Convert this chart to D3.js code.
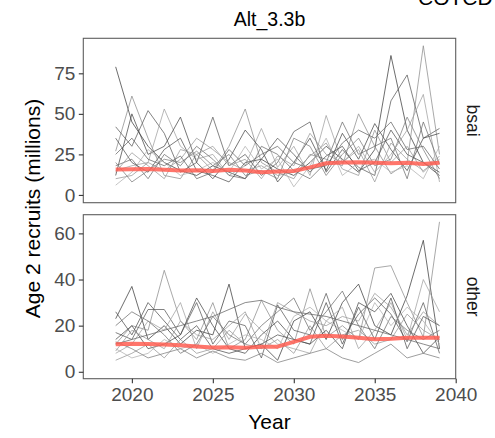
<!DOCTYPE html>
<html><head><meta charset="utf-8">
<script src="https://cdn.jsdelivr.net/npm/d3@7/dist/d3.min.js"></script>
<style>body{margin:0;background:#fff}svg{display:block;font-family:"Liberation Sans",Arial,sans-serif}</style>
</head><body><svg id="c" width="495" height="438"></svg>
<script>
const years = d3.range(2019, 2040);
const xTicks = [2020, 2025, 2030, 2035, 2040];
const bsaiTicks = [0, 25, 50, 75];
const otherTicks = [0, 20, 40, 60];
const facets = ["bsai", "other"];
const title = "Alt_3.3b";
const cornerText = "COTCD";

const bsaiMean = [15.7,15.8,16.0,15.5,15.0,15.2,14.8,15.5,15.0,14.0,14.5,14.8,17.0,19.5,20.0,20.2,19.8,19.5,19.8,19.0,19.8];
const bsaiRuns = [
 [79,45,30,20,15,12,18,14,10,22,16,12,20,30,22,14,28,86,40,20,12],
 [27,61,35,12,10,25,15,30,53,20,14,10,25,22,18,50,30,13,20,92,25],
 [42,30,52,38,14,20,48,18,25,12,20,39,45,14,28,17,12,58,74,35,41],
 [15,18,20,53,30,22,25,12,18,41,17,30,12,49,20,30,14,25,40,62,8],
 [12,50,25,30,48,20,10,22,40,28,8,20,35,15,38,22,44,28,15,35,38],
 [10,12,20,15,22,35,28,20,15,18,12,14,24,32,16,12,40,20,30,14,24],
 [18,22,10,25,18,30,22,12,10,30,25,15,10,20,45,25,30,35,10,45,19],
 [6,14,28,20,12,15,20,14,30,16,22,5,18,35,12,20,22,14,18,10,30],
 [35,20,14,28,35,15,12,8,20,22,35,25,14,24,30,15,20,40,25,20,14],
 [20,8,15,22,20,27,18,25,12,15,10,35,30,12,25,35,18,22,48,28,10],
 [14,26,18,10,28,25,30,18,22,10,24,18,38,25,20,28,8,32,22,15,22],
 [25,35,22,18,24,10,14,28,18,25,30,20,16,18,32,40,35,45,28,30,16]
];
const otherMean = [11.9,12.2,12.0,11.8,11.5,11.0,10.5,10.6,10.4,10.8,10.9,13.0,15.2,15.6,15.3,14.8,14.1,14.3,14.8,14.8,14.8];
const otherRuns = [
 [23,37,14,20,12,18,16,38,10,12,5,22,26,14,30,38,20,16,33,57,10],
 [12,20,18,44,22,14,30,10,14,31,18,12,36,15,20,14,45,46,30,15,65],
 [17,14,27,27,16,30,12,22,20,6,29,18,16,34,14,25,32,25,13,30,8],
 [8,12,22,18,30,10,26,14,25,18,12,10,8,22,28,10,18,30,14,40,26],
 [14,20,10,12,16,32,20,10,8,16,22,14,12,18,10,30,26,34,20,8,15],
 [5,8,12,6,14,8,10,18,12,10,14,8,20,10,16,18,12,14,25,18,14],
 [20,26,22,16,8,12,24,16,12,20,26,32,18,26,35,20,10,24,18,14,18],
 [10,6,8,14,10,12,8,12,16,14,10,24,28,22,18,14,30,20,28,22,12],
 [26,16,30,22,14,20,10,8,10,12,16,14,12,30,12,28,14,32,10,24,20],
 [13,10,6,8,10,6,9,6,5,8,4,6,8,10,6,4,8,12,6,8,6],
 [9,18,14,10,22,16,14,20,26,10,30,26,22,20,24,22,34,28,16,26,20],
 [12,14,16,18,20,22,24,27,30,31,28,26,25,24,22,20,18,16,14,12,10]
];
const grays = ["#3c3c3c","#8c8c8c","#5a5a5a","#a0a0a0","#484848","#959595","#6e6e6e","#b0b0b0","#525252","#7d7d7d","#9a9a9a","#646464"];

const svg = d3.select("#c");
const L = 83.3, R = 455.7;
const x = d3.scaleLinear().domain([2017, 2040]).range([L, R]);
const panels = [
  {name: facets[0], runs: bsaiRuns, mean: bsaiMean, ticks: bsaiTicks,
   y: d3.scaleLinear().domain([-4.8, 96.6]).range([202.7, 38.3])},
  {name: facets[1], runs: otherRuns, mean: otherMean, ticks: otherTicks,
   y: d3.scaleLinear().domain([-3.0, 68.1]).range([378.7, 214.7])}
];

svg.append("text").attr("x", 418).attr("y", 4.5).attr("font-size", 21).attr("fill", "#000").text(cornerText);
svg.append("text").attr("x", (L + R) / 2).attr("y", 26).attr("text-anchor", "middle")
  .attr("font-size", 19.5).attr("fill", "#000").text(title);

panels.forEach((p, i) => {
  const [yb, yt] = p.y.range();
  const g = svg.append("g");
  const clipId = "clip" + i;
  svg.append("clipPath").attr("id", clipId).append("rect")
    .attr("x", L).attr("y", yt).attr("width", R - L).attr("height", yb - yt);
  const line = d3.line().x((d, j) => x(years[j])).y(d => p.y(d));
  const lg = g.append("g").attr("clip-path", `url(#${clipId})`);
  p.runs.forEach((r, k) => {
    lg.append("path").attr("d", line(r)).attr("fill", "none")
      .attr("stroke", grays[k % grays.length]).attr("stroke-width", 0.75);
  });
  lg.append("path").attr("d", line(p.mean)).attr("fill", "none")
    .attr("stroke", "#ff5e52").attr("stroke-opacity", 0.85).attr("stroke-width", 4)
    .attr("stroke-linejoin", "round");
  g.append("rect").attr("x", L).attr("y", yt).attr("width", R - L).attr("height", yb - yt)
    .attr("fill", "none").attr("stroke", "#5e5e5e").attr("stroke-width", 1.1);
  const ya = g.append("g").attr("transform", `translate(${L},0)`)
    .call(d3.axisLeft(p.y).tickValues(p.ticks).tickSize(4.5).tickPadding(3.5));
  ya.select(".domain").remove();
  ya.selectAll("line").attr("stroke", "#333").attr("stroke-width", 1.1);
  ya.selectAll("text").attr("font-size", 19).attr("fill", "#4d4d4d").attr("font-family", "Liberation Sans, Arial, sans-serif");
  g.append("text").attr("transform", `translate(467,${(yt + yb) / 2}) rotate(90)`)
    .attr("text-anchor", "middle").attr("font-size", 17.5).attr("fill", "#1a1a1a").text(p.name);
  if (i === 1) {
    const xa = g.append("g").attr("transform", `translate(0,${yb})`)
      .call(d3.axisBottom(x).tickValues(xTicks).tickFormat(d3.format("d")).tickSize(4.5).tickPadding(4));
    xa.select(".domain").remove();
    xa.selectAll("line").attr("stroke", "#333").attr("stroke-width", 1.1);
    xa.selectAll("text").attr("font-size", 19).attr("fill", "#4d4d4d").attr("font-family", "Liberation Sans, Arial, sans-serif");
  }
});

svg.append("text").attr("x", (L + R) / 2).attr("y", 429).attr("text-anchor", "middle")
  .attr("font-size", 21).attr("fill", "#000").text("Year");
svg.append("text").attr("transform", `translate(40,${(38.3 + 378.7) / 2}) rotate(-90)`)
  .attr("text-anchor", "middle").attr("font-size", 21).attr("fill", "#000").text("Age 2 recruits (millions)");
</script></body></html>
